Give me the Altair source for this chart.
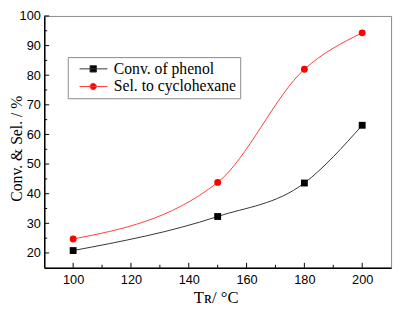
import altair as alt
import pandas as pd

# ---- data ----
temps = [100, 150, 180, 200]
conv = [20.8, 32.3, 43.6, 63.1]
sel = [24.7, 43.8, 82.0, 94.3]
series = ["Conv. of phenol", "Sel. to cyclohexane"]
x_ticks = [100, 120, 140, 160, 180, 200]
x_minor = [110, 130, 150, 170, 190]
y_ticks = [20, 30, 40, 50, 60, 70, 80, 90, 100]
y_minor = [25, 35, 45, 55, 65, 75, 85, 95]

rows = []
for t, c, s in zip(temps, conv, sel):
    rows.append({"T": t, "v": c, "s": series[0]})
    rows.append({"T": t, "v": s, "s": series[1]})
df = pd.DataFrame(rows)

W, H = 354, 257
xs = alt.Scale(domain=[90, 210], nice=False)
ys = alt.Scale(domain=[15, 100], nice=False)

line_cols = ["#333333", "#ff3a3a"]
mark_cols = ["#000000", "#ff0000"]

x_axis = alt.Axis(values=x_ticks, title="T\u0280/ \u00b0C", ticks=False, grid=False,
                  labelPadding=6, labelOverlap=False, titleX=175, titleY=35,
                  titleBaseline="alphabetic", titleAnchor="start", titleAlign="center",
                  titleFontSize=17)
y_axis = alt.Axis(values=y_ticks, title="Conv. & Sel. / %", ticks=False, grid=False,
                  labelPadding=4, labelOverlap=False, titleX=-28, titleY=135,
                  titleBaseline="middle", titleAlign="center", titleAnchor="start")

X = alt.X("T:Q", scale=xs, axis=x_axis)
Y = alt.Y("v:Q", scale=ys, axis=y_axis)

lines = alt.Chart(df).mark_line(interpolate="monotone", strokeWidth=1).encode(
    x=X, y=Y,
    stroke=alt.Stroke("s:N", scale=alt.Scale(domain=series, range=line_cols), legend=None),
)

points = alt.Chart(df).mark_point(filled=True, size=49, opacity=1).encode(
    x=X, y=Y,
    color=alt.Color("s:N", scale=alt.Scale(domain=series, range=mark_cols), legend=None),
    shape=alt.Shape("s:N", scale=alt.Scale(domain=series, range=["square", "circle"]), legend=None),
)

sq_path = "M0,0H5.7M2.15,-0.65H3.45V0.65H2.15Z"
ci_path = "M0,0H5.7M2.15,0A0.65,0.65 0 1,1 3.45,0A0.65,0.65 0 1,1 2.15,0Z"
leg = alt.Legend(title=None, orient="none", legendX=24, legendY=42, padding=4,
                 strokeColor="#888888", fillColor="white", labelFont="Liberation Serif",
                 labelFontSize=16, labelColor="black", symbolSize=100, symbolStrokeWidth=1,
                 labelOffset=27, rowPadding=2, symbolOpacity=1)

legend_layer = alt.Chart(df).mark_point(opacity=0).encode(
    x=X, y=Y,
    fill=alt.Fill("s:N", scale=alt.Scale(domain=series, range=mark_cols), legend=leg),
    stroke=alt.Stroke("s:N", scale=alt.Scale(domain=series, range=line_cols), legend=leg),
    shape=alt.Shape("s:N", scale=alt.Scale(domain=series, range=[sq_path, ci_path]), legend=leg),
)

xt = pd.DataFrame({"T": x_ticks})
xm = pd.DataFrame({"T": x_minor})
yt = pd.DataFrame({"v": y_ticks})
ym = pd.DataFrame({"v": y_minor})

xt_rules = alt.Chart(xt).mark_rule(color="black", strokeWidth=1).encode(
    x=X, y=alt.value(H), y2=alt.value(H - 5))
xm_rules = alt.Chart(xm).mark_rule(color="black", strokeWidth=1).encode(
    x=X, y=alt.value(H), y2=alt.value(H - 3))
yt_rules = alt.Chart(yt).mark_rule(color="black", strokeWidth=1).encode(
    y=Y, x=alt.value(0), x2=alt.value(5))
ym_rules = alt.Chart(ym).mark_rule(color="black", strokeWidth=1).encode(
    y=Y, x=alt.value(0), x2=alt.value(3))

chart = alt.layer(
    lines, xt_rules, xm_rules, yt_rules, ym_rules, points, legend_layer
).resolve_scale(
    shape="independent", fill="independent", stroke="independent", color="independent"
).properties(
    width=W, height=H,
    autosize=alt.AutoSizeParams(type="none"),
    padding={"left": 37, "top": 5, "right": 4, "bottom": 40},
).configure_view(
    stroke="#888888", strokeWidth=1
).configure_axis(
    domainColor="black", domainWidth=1.5,
    labelFont="Liberation Sans", labelFontSize=13, labelColor="black",
    titleFont="Liberation Serif", titleFontSize=16, titleFontWeight="normal", titleColor="black",
)

chart.save("out.html", embed_options={"renderer": "svg", "actions": False})
